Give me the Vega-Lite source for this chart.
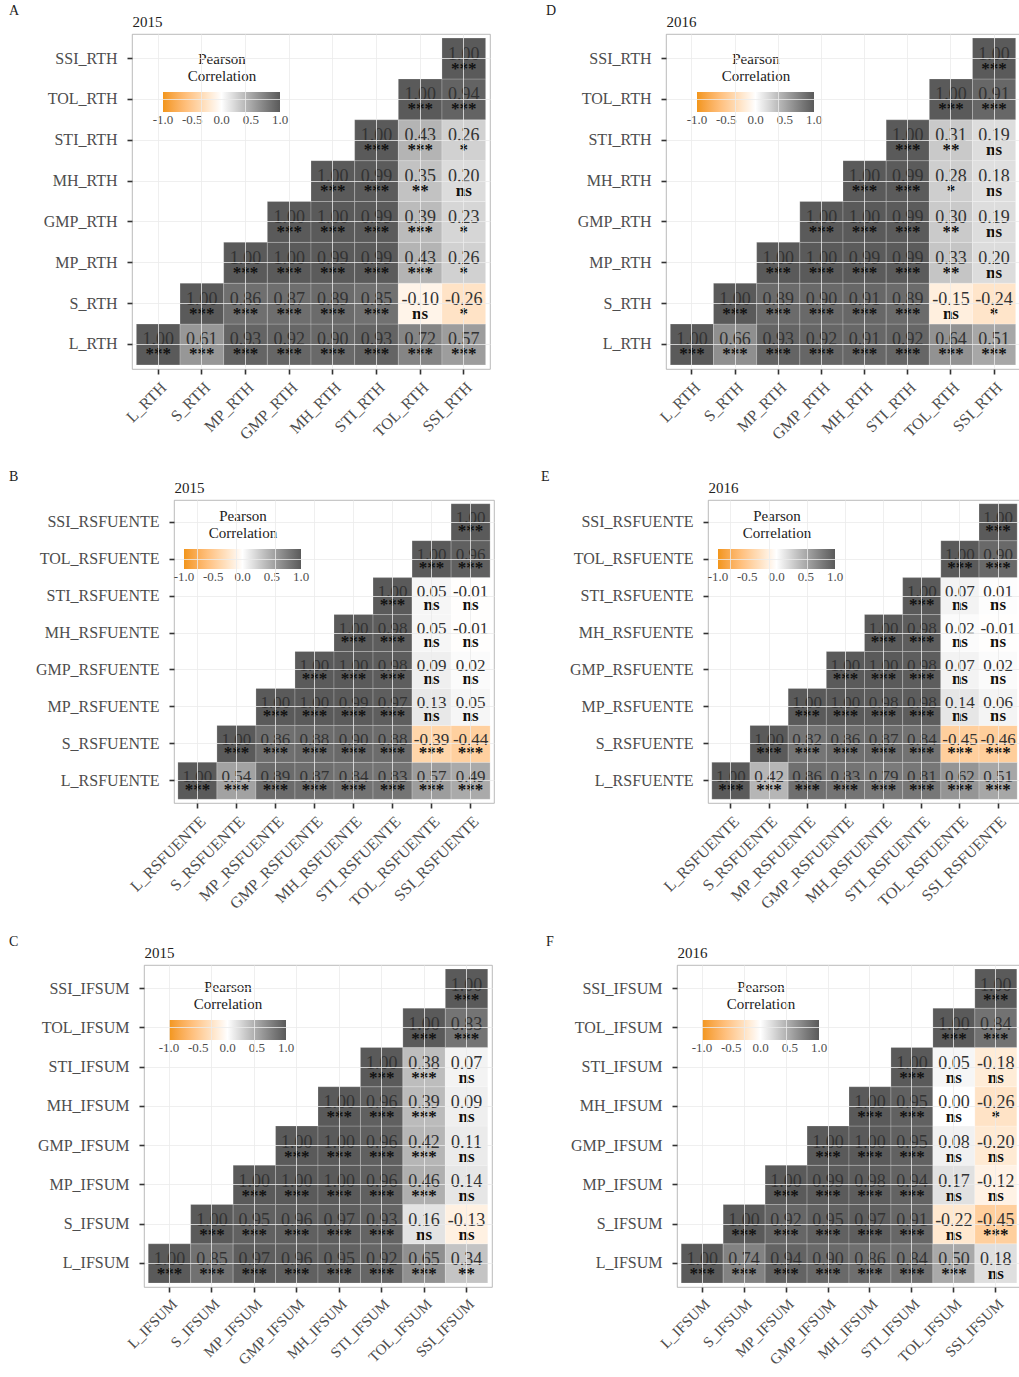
{
  "$schema": "https://vega.github.io/schema/vega-lite/v6.json",
  "background": "white",
  "padding": {"left": 0, "top": 3, "right": 0, "bottom": 0},
  "spacing": 14,
  "resolve": {"scale": {"color": "independent"}, "legend": {"color": "independent"}},
  "datasets": {
    "A": [
      {"x": "L_RTH", "y": "L_RTH", "r": 1, "sig": "***"},
      {"x": "S_RTH", "y": "L_RTH", "r": 0.61, "sig": "***"},
      {"x": "MP_RTH", "y": "L_RTH", "r": 0.93, "sig": "***"},
      {"x": "GMP_RTH", "y": "L_RTH", "r": 0.92, "sig": "***"},
      {"x": "MH_RTH", "y": "L_RTH", "r": 0.90, "sig": "***"},
      {"x": "STI_RTH", "y": "L_RTH", "r": 0.93, "sig": "***"},
      {"x": "TOL_RTH", "y": "L_RTH", "r": 0.72, "sig": "***"},
      {"x": "SSI_RTH", "y": "L_RTH", "r": 0.57, "sig": "***"},
      {"x": "S_RTH", "y": "S_RTH", "r": 1, "sig": "***"},
      {"x": "MP_RTH", "y": "S_RTH", "r": 0.86, "sig": "***"},
      {"x": "GMP_RTH", "y": "S_RTH", "r": 0.87, "sig": "***"},
      {"x": "MH_RTH", "y": "S_RTH", "r": 0.89, "sig": "***"},
      {"x": "STI_RTH", "y": "S_RTH", "r": 0.85, "sig": "***"},
      {"x": "TOL_RTH", "y": "S_RTH", "r": -0.10, "sig": "ns"},
      {"x": "SSI_RTH", "y": "S_RTH", "r": -0.26, "sig": "*"},
      {"x": "MP_RTH", "y": "MP_RTH", "r": 1, "sig": "***"},
      {"x": "GMP_RTH", "y": "MP_RTH", "r": 1, "sig": "***"},
      {"x": "MH_RTH", "y": "MP_RTH", "r": 0.99, "sig": "***"},
      {"x": "STI_RTH", "y": "MP_RTH", "r": 0.99, "sig": "***"},
      {"x": "TOL_RTH", "y": "MP_RTH", "r": 0.43, "sig": "***"},
      {"x": "SSI_RTH", "y": "MP_RTH", "r": 0.26, "sig": "*"},
      {"x": "GMP_RTH", "y": "GMP_RTH", "r": 1, "sig": "***"},
      {"x": "MH_RTH", "y": "GMP_RTH", "r": 1, "sig": "***"},
      {"x": "STI_RTH", "y": "GMP_RTH", "r": 0.99, "sig": "***"},
      {"x": "TOL_RTH", "y": "GMP_RTH", "r": 0.39, "sig": "***"},
      {"x": "SSI_RTH", "y": "GMP_RTH", "r": 0.23, "sig": "*"},
      {"x": "MH_RTH", "y": "MH_RTH", "r": 1, "sig": "***"},
      {"x": "STI_RTH", "y": "MH_RTH", "r": 0.99, "sig": "***"},
      {"x": "TOL_RTH", "y": "MH_RTH", "r": 0.35, "sig": "**"},
      {"x": "SSI_RTH", "y": "MH_RTH", "r": 0.20, "sig": "ns"},
      {"x": "STI_RTH", "y": "STI_RTH", "r": 1, "sig": "***"},
      {"x": "TOL_RTH", "y": "STI_RTH", "r": 0.43, "sig": "***"},
      {"x": "SSI_RTH", "y": "STI_RTH", "r": 0.26, "sig": "*"},
      {"x": "TOL_RTH", "y": "TOL_RTH", "r": 1, "sig": "***"},
      {"x": "SSI_RTH", "y": "TOL_RTH", "r": 0.94, "sig": "***"},
      {"x": "SSI_RTH", "y": "SSI_RTH", "r": 1, "sig": "***"}
    ],
    "D": [
      {"x": "L_RTH", "y": "L_RTH", "r": 1, "sig": "***"},
      {"x": "S_RTH", "y": "L_RTH", "r": 0.66, "sig": "***"},
      {"x": "MP_RTH", "y": "L_RTH", "r": 0.93, "sig": "***"},
      {"x": "GMP_RTH", "y": "L_RTH", "r": 0.92, "sig": "***"},
      {"x": "MH_RTH", "y": "L_RTH", "r": 0.91, "sig": "***"},
      {"x": "STI_RTH", "y": "L_RTH", "r": 0.92, "sig": "***"},
      {"x": "TOL_RTH", "y": "L_RTH", "r": 0.64, "sig": "***"},
      {"x": "SSI_RTH", "y": "L_RTH", "r": 0.51, "sig": "***"},
      {"x": "S_RTH", "y": "S_RTH", "r": 1, "sig": "***"},
      {"x": "MP_RTH", "y": "S_RTH", "r": 0.89, "sig": "***"},
      {"x": "GMP_RTH", "y": "S_RTH", "r": 0.90, "sig": "***"},
      {"x": "MH_RTH", "y": "S_RTH", "r": 0.91, "sig": "***"},
      {"x": "STI_RTH", "y": "S_RTH", "r": 0.89, "sig": "***"},
      {"x": "TOL_RTH", "y": "S_RTH", "r": -0.15, "sig": "ns"},
      {"x": "SSI_RTH", "y": "S_RTH", "r": -0.24, "sig": "*"},
      {"x": "MP_RTH", "y": "MP_RTH", "r": 1, "sig": "***"},
      {"x": "GMP_RTH", "y": "MP_RTH", "r": 1, "sig": "***"},
      {"x": "MH_RTH", "y": "MP_RTH", "r": 0.99, "sig": "***"},
      {"x": "STI_RTH", "y": "MP_RTH", "r": 0.99, "sig": "***"},
      {"x": "TOL_RTH", "y": "MP_RTH", "r": 0.33, "sig": "**"},
      {"x": "SSI_RTH", "y": "MP_RTH", "r": 0.20, "sig": "ns"},
      {"x": "GMP_RTH", "y": "GMP_RTH", "r": 1, "sig": "***"},
      {"x": "MH_RTH", "y": "GMP_RTH", "r": 1, "sig": "***"},
      {"x": "STI_RTH", "y": "GMP_RTH", "r": 0.99, "sig": "***"},
      {"x": "TOL_RTH", "y": "GMP_RTH", "r": 0.30, "sig": "**"},
      {"x": "SSI_RTH", "y": "GMP_RTH", "r": 0.19, "sig": "ns"},
      {"x": "MH_RTH", "y": "MH_RTH", "r": 1, "sig": "***"},
      {"x": "STI_RTH", "y": "MH_RTH", "r": 0.99, "sig": "***"},
      {"x": "TOL_RTH", "y": "MH_RTH", "r": 0.28, "sig": "*"},
      {"x": "SSI_RTH", "y": "MH_RTH", "r": 0.18, "sig": "ns"},
      {"x": "STI_RTH", "y": "STI_RTH", "r": 1, "sig": "***"},
      {"x": "TOL_RTH", "y": "STI_RTH", "r": 0.31, "sig": "**"},
      {"x": "SSI_RTH", "y": "STI_RTH", "r": 0.19, "sig": "ns"},
      {"x": "TOL_RTH", "y": "TOL_RTH", "r": 1, "sig": "***"},
      {"x": "SSI_RTH", "y": "TOL_RTH", "r": 0.91, "sig": "***"},
      {"x": "SSI_RTH", "y": "SSI_RTH", "r": 1, "sig": "***"}
    ],
    "B": [
      {"x": "L_RSFUENTE", "y": "L_RSFUENTE", "r": 1, "sig": "***"},
      {"x": "S_RSFUENTE", "y": "L_RSFUENTE", "r": 0.54, "sig": "***"},
      {"x": "MP_RSFUENTE", "y": "L_RSFUENTE", "r": 0.89, "sig": "***"},
      {"x": "GMP_RSFUENTE", "y": "L_RSFUENTE", "r": 0.87, "sig": "***"},
      {"x": "MH_RSFUENTE", "y": "L_RSFUENTE", "r": 0.84, "sig": "***"},
      {"x": "STI_RSFUENTE", "y": "L_RSFUENTE", "r": 0.83, "sig": "***"},
      {"x": "TOL_RSFUENTE", "y": "L_RSFUENTE", "r": 0.57, "sig": "***"},
      {"x": "SSI_RSFUENTE", "y": "L_RSFUENTE", "r": 0.49, "sig": "***"},
      {"x": "S_RSFUENTE", "y": "S_RSFUENTE", "r": 1, "sig": "***"},
      {"x": "MP_RSFUENTE", "y": "S_RSFUENTE", "r": 0.86, "sig": "***"},
      {"x": "GMP_RSFUENTE", "y": "S_RSFUENTE", "r": 0.88, "sig": "***"},
      {"x": "MH_RSFUENTE", "y": "S_RSFUENTE", "r": 0.90, "sig": "***"},
      {"x": "STI_RSFUENTE", "y": "S_RSFUENTE", "r": 0.88, "sig": "***"},
      {"x": "TOL_RSFUENTE", "y": "S_RSFUENTE", "r": -0.39, "sig": "***"},
      {"x": "SSI_RSFUENTE", "y": "S_RSFUENTE", "r": -0.44, "sig": "***"},
      {"x": "MP_RSFUENTE", "y": "MP_RSFUENTE", "r": 1, "sig": "***"},
      {"x": "GMP_RSFUENTE", "y": "MP_RSFUENTE", "r": 1, "sig": "***"},
      {"x": "MH_RSFUENTE", "y": "MP_RSFUENTE", "r": 0.99, "sig": "***"},
      {"x": "STI_RSFUENTE", "y": "MP_RSFUENTE", "r": 0.97, "sig": "***"},
      {"x": "TOL_RSFUENTE", "y": "MP_RSFUENTE", "r": 0.13, "sig": "ns"},
      {"x": "SSI_RSFUENTE", "y": "MP_RSFUENTE", "r": 0.05, "sig": "ns"},
      {"x": "GMP_RSFUENTE", "y": "GMP_RSFUENTE", "r": 1, "sig": "***"},
      {"x": "MH_RSFUENTE", "y": "GMP_RSFUENTE", "r": 1, "sig": "***"},
      {"x": "STI_RSFUENTE", "y": "GMP_RSFUENTE", "r": 0.98, "sig": "***"},
      {"x": "TOL_RSFUENTE", "y": "GMP_RSFUENTE", "r": 0.09, "sig": "ns"},
      {"x": "SSI_RSFUENTE", "y": "GMP_RSFUENTE", "r": 0.02, "sig": "ns"},
      {"x": "MH_RSFUENTE", "y": "MH_RSFUENTE", "r": 1, "sig": "***"},
      {"x": "STI_RSFUENTE", "y": "MH_RSFUENTE", "r": 0.98, "sig": "***"},
      {"x": "TOL_RSFUENTE", "y": "MH_RSFUENTE", "r": 0.05, "sig": "ns"},
      {"x": "SSI_RSFUENTE", "y": "MH_RSFUENTE", "r": -0.01, "sig": "ns"},
      {"x": "STI_RSFUENTE", "y": "STI_RSFUENTE", "r": 1, "sig": "***"},
      {"x": "TOL_RSFUENTE", "y": "STI_RSFUENTE", "r": 0.05, "sig": "ns"},
      {"x": "SSI_RSFUENTE", "y": "STI_RSFUENTE", "r": -0.01, "sig": "ns"},
      {"x": "TOL_RSFUENTE", "y": "TOL_RSFUENTE", "r": 1, "sig": "***"},
      {"x": "SSI_RSFUENTE", "y": "TOL_RSFUENTE", "r": 0.96, "sig": "***"},
      {"x": "SSI_RSFUENTE", "y": "SSI_RSFUENTE", "r": 1, "sig": "***"}
    ],
    "E": [
      {"x": "L_RSFUENTE", "y": "L_RSFUENTE", "r": 1, "sig": "***"},
      {"x": "S_RSFUENTE", "y": "L_RSFUENTE", "r": 0.42, "sig": "***"},
      {"x": "MP_RSFUENTE", "y": "L_RSFUENTE", "r": 0.86, "sig": "***"},
      {"x": "GMP_RSFUENTE", "y": "L_RSFUENTE", "r": 0.83, "sig": "***"},
      {"x": "MH_RSFUENTE", "y": "L_RSFUENTE", "r": 0.79, "sig": "***"},
      {"x": "STI_RSFUENTE", "y": "L_RSFUENTE", "r": 0.81, "sig": "***"},
      {"x": "TOL_RSFUENTE", "y": "L_RSFUENTE", "r": 0.62, "sig": "***"},
      {"x": "SSI_RSFUENTE", "y": "L_RSFUENTE", "r": 0.51, "sig": "***"},
      {"x": "S_RSFUENTE", "y": "S_RSFUENTE", "r": 1, "sig": "***"},
      {"x": "MP_RSFUENTE", "y": "S_RSFUENTE", "r": 0.82, "sig": "***"},
      {"x": "GMP_RSFUENTE", "y": "S_RSFUENTE", "r": 0.86, "sig": "***"},
      {"x": "MH_RSFUENTE", "y": "S_RSFUENTE", "r": 0.87, "sig": "***"},
      {"x": "STI_RSFUENTE", "y": "S_RSFUENTE", "r": 0.84, "sig": "***"},
      {"x": "TOL_RSFUENTE", "y": "S_RSFUENTE", "r": -0.45, "sig": "***"},
      {"x": "SSI_RSFUENTE", "y": "S_RSFUENTE", "r": -0.46, "sig": "***"},
      {"x": "MP_RSFUENTE", "y": "MP_RSFUENTE", "r": 1, "sig": "***"},
      {"x": "GMP_RSFUENTE", "y": "MP_RSFUENTE", "r": 1, "sig": "***"},
      {"x": "MH_RSFUENTE", "y": "MP_RSFUENTE", "r": 0.98, "sig": "***"},
      {"x": "STI_RSFUENTE", "y": "MP_RSFUENTE", "r": 0.98, "sig": "***"},
      {"x": "TOL_RSFUENTE", "y": "MP_RSFUENTE", "r": 0.14, "sig": "ns"},
      {"x": "SSI_RSFUENTE", "y": "MP_RSFUENTE", "r": 0.06, "sig": "ns"},
      {"x": "GMP_RSFUENTE", "y": "GMP_RSFUENTE", "r": 1, "sig": "***"},
      {"x": "MH_RSFUENTE", "y": "GMP_RSFUENTE", "r": 1, "sig": "***"},
      {"x": "STI_RSFUENTE", "y": "GMP_RSFUENTE", "r": 0.98, "sig": "***"},
      {"x": "TOL_RSFUENTE", "y": "GMP_RSFUENTE", "r": 0.07, "sig": "ns"},
      {"x": "SSI_RSFUENTE", "y": "GMP_RSFUENTE", "r": 0.02, "sig": "ns"},
      {"x": "MH_RSFUENTE", "y": "MH_RSFUENTE", "r": 1, "sig": "***"},
      {"x": "STI_RSFUENTE", "y": "MH_RSFUENTE", "r": 0.98, "sig": "***"},
      {"x": "TOL_RSFUENTE", "y": "MH_RSFUENTE", "r": 0.02, "sig": "ns"},
      {"x": "SSI_RSFUENTE", "y": "MH_RSFUENTE", "r": -0.01, "sig": "ns"},
      {"x": "STI_RSFUENTE", "y": "STI_RSFUENTE", "r": 1, "sig": "***"},
      {"x": "TOL_RSFUENTE", "y": "STI_RSFUENTE", "r": 0.07, "sig": "ns"},
      {"x": "SSI_RSFUENTE", "y": "STI_RSFUENTE", "r": 0.01, "sig": "ns"},
      {"x": "TOL_RSFUENTE", "y": "TOL_RSFUENTE", "r": 1, "sig": "***"},
      {"x": "SSI_RSFUENTE", "y": "TOL_RSFUENTE", "r": 0.90, "sig": "***"},
      {"x": "SSI_RSFUENTE", "y": "SSI_RSFUENTE", "r": 1, "sig": "***"}
    ],
    "C": [
      {"x": "L_IFSUM", "y": "L_IFSUM", "r": 1, "sig": "***"},
      {"x": "S_IFSUM", "y": "L_IFSUM", "r": 0.85, "sig": "***"},
      {"x": "MP_IFSUM", "y": "L_IFSUM", "r": 0.97, "sig": "***"},
      {"x": "GMP_IFSUM", "y": "L_IFSUM", "r": 0.96, "sig": "***"},
      {"x": "MH_IFSUM", "y": "L_IFSUM", "r": 0.95, "sig": "***"},
      {"x": "STI_IFSUM", "y": "L_IFSUM", "r": 0.92, "sig": "***"},
      {"x": "TOL_IFSUM", "y": "L_IFSUM", "r": 0.65, "sig": "***"},
      {"x": "SSI_IFSUM", "y": "L_IFSUM", "r": 0.34, "sig": "**"},
      {"x": "S_IFSUM", "y": "S_IFSUM", "r": 1, "sig": "***"},
      {"x": "MP_IFSUM", "y": "S_IFSUM", "r": 0.95, "sig": "***"},
      {"x": "GMP_IFSUM", "y": "S_IFSUM", "r": 0.96, "sig": "***"},
      {"x": "MH_IFSUM", "y": "S_IFSUM", "r": 0.97, "sig": "***"},
      {"x": "STI_IFSUM", "y": "S_IFSUM", "r": 0.93, "sig": "***"},
      {"x": "TOL_IFSUM", "y": "S_IFSUM", "r": 0.16, "sig": "ns"},
      {"x": "SSI_IFSUM", "y": "S_IFSUM", "r": -0.13, "sig": "ns"},
      {"x": "MP_IFSUM", "y": "MP_IFSUM", "r": 1, "sig": "***"},
      {"x": "GMP_IFSUM", "y": "MP_IFSUM", "r": 1, "sig": "***"},
      {"x": "MH_IFSUM", "y": "MP_IFSUM", "r": 1, "sig": "***"},
      {"x": "STI_IFSUM", "y": "MP_IFSUM", "r": 0.96, "sig": "***"},
      {"x": "TOL_IFSUM", "y": "MP_IFSUM", "r": 0.46, "sig": "***"},
      {"x": "SSI_IFSUM", "y": "MP_IFSUM", "r": 0.14, "sig": "ns"},
      {"x": "GMP_IFSUM", "y": "GMP_IFSUM", "r": 1, "sig": "***"},
      {"x": "MH_IFSUM", "y": "GMP_IFSUM", "r": 1, "sig": "***"},
      {"x": "STI_IFSUM", "y": "GMP_IFSUM", "r": 0.96, "sig": "***"},
      {"x": "TOL_IFSUM", "y": "GMP_IFSUM", "r": 0.42, "sig": "***"},
      {"x": "SSI_IFSUM", "y": "GMP_IFSUM", "r": 0.11, "sig": "ns"},
      {"x": "MH_IFSUM", "y": "MH_IFSUM", "r": 1, "sig": "***"},
      {"x": "STI_IFSUM", "y": "MH_IFSUM", "r": 0.96, "sig": "***"},
      {"x": "TOL_IFSUM", "y": "MH_IFSUM", "r": 0.39, "sig": "***"},
      {"x": "SSI_IFSUM", "y": "MH_IFSUM", "r": 0.09, "sig": "ns"},
      {"x": "STI_IFSUM", "y": "STI_IFSUM", "r": 1, "sig": "***"},
      {"x": "TOL_IFSUM", "y": "STI_IFSUM", "r": 0.38, "sig": "***"},
      {"x": "SSI_IFSUM", "y": "STI_IFSUM", "r": 0.07, "sig": "ns"},
      {"x": "TOL_IFSUM", "y": "TOL_IFSUM", "r": 1, "sig": "***"},
      {"x": "SSI_IFSUM", "y": "TOL_IFSUM", "r": 0.83, "sig": "***"},
      {"x": "SSI_IFSUM", "y": "SSI_IFSUM", "r": 1, "sig": "***"}
    ],
    "F": [
      {"x": "L_IFSUM", "y": "L_IFSUM", "r": 1, "sig": "***"},
      {"x": "S_IFSUM", "y": "L_IFSUM", "r": 0.74, "sig": "***"},
      {"x": "MP_IFSUM", "y": "L_IFSUM", "r": 0.94, "sig": "***"},
      {"x": "GMP_IFSUM", "y": "L_IFSUM", "r": 0.90, "sig": "***"},
      {"x": "MH_IFSUM", "y": "L_IFSUM", "r": 0.86, "sig": "***"},
      {"x": "STI_IFSUM", "y": "L_IFSUM", "r": 0.84, "sig": "***"},
      {"x": "TOL_IFSUM", "y": "L_IFSUM", "r": 0.50, "sig": "***"},
      {"x": "SSI_IFSUM", "y": "L_IFSUM", "r": 0.18, "sig": "ns"},
      {"x": "S_IFSUM", "y": "S_IFSUM", "r": 1, "sig": "***"},
      {"x": "MP_IFSUM", "y": "S_IFSUM", "r": 0.92, "sig": "***"},
      {"x": "GMP_IFSUM", "y": "S_IFSUM", "r": 0.95, "sig": "***"},
      {"x": "MH_IFSUM", "y": "S_IFSUM", "r": 0.97, "sig": "***"},
      {"x": "STI_IFSUM", "y": "S_IFSUM", "r": 0.91, "sig": "***"},
      {"x": "TOL_IFSUM", "y": "S_IFSUM", "r": -0.22, "sig": "ns"},
      {"x": "SSI_IFSUM", "y": "S_IFSUM", "r": -0.45, "sig": "***"},
      {"x": "MP_IFSUM", "y": "MP_IFSUM", "r": 1, "sig": "***"},
      {"x": "GMP_IFSUM", "y": "MP_IFSUM", "r": 0.99, "sig": "***"},
      {"x": "MH_IFSUM", "y": "MP_IFSUM", "r": 0.98, "sig": "***"},
      {"x": "STI_IFSUM", "y": "MP_IFSUM", "r": 0.94, "sig": "***"},
      {"x": "TOL_IFSUM", "y": "MP_IFSUM", "r": 0.17, "sig": "ns"},
      {"x": "SSI_IFSUM", "y": "MP_IFSUM", "r": -0.12, "sig": "ns"},
      {"x": "GMP_IFSUM", "y": "GMP_IFSUM", "r": 1, "sig": "***"},
      {"x": "MH_IFSUM", "y": "GMP_IFSUM", "r": 1, "sig": "***"},
      {"x": "STI_IFSUM", "y": "GMP_IFSUM", "r": 0.95, "sig": "***"},
      {"x": "TOL_IFSUM", "y": "GMP_IFSUM", "r": 0.08, "sig": "ns"},
      {"x": "SSI_IFSUM", "y": "GMP_IFSUM", "r": -0.20, "sig": "ns"},
      {"x": "MH_IFSUM", "y": "MH_IFSUM", "r": 1, "sig": "***"},
      {"x": "STI_IFSUM", "y": "MH_IFSUM", "r": 0.95, "sig": "***"},
      {"x": "TOL_IFSUM", "y": "MH_IFSUM", "r": 0.00, "sig": "ns"},
      {"x": "SSI_IFSUM", "y": "MH_IFSUM", "r": -0.26, "sig": "*"},
      {"x": "STI_IFSUM", "y": "STI_IFSUM", "r": 1, "sig": "***"},
      {"x": "TOL_IFSUM", "y": "STI_IFSUM", "r": 0.05, "sig": "ns"},
      {"x": "SSI_IFSUM", "y": "STI_IFSUM", "r": -0.18, "sig": "ns"},
      {"x": "TOL_IFSUM", "y": "TOL_IFSUM", "r": 1, "sig": "***"},
      {"x": "SSI_IFSUM", "y": "TOL_IFSUM", "r": 0.84, "sig": "***"},
      {"x": "SSI_IFSUM", "y": "SSI_IFSUM", "r": 1, "sig": "***"}
    ]
  },
  "vconcat": [
    {
      "spacing": 7,
      "resolve": {"scale": {"color": "independent"}, "legend": {"color": "independent"}},
      "hconcat": [
        {"data": {"values": []}, "mark": {"type": "rect"}, "encoding": {}, "width": 1, "height": 1, "view": {"stroke": null}},
        {
          "spacing": 54,
          "resolve": {"scale": {"color": "independent"}, "legend": {"color": "independent"}},
          "hconcat": [
            {
              "width": 358, "height": 335,
              "title": {"text": "A"},
              "data": {"name": "A"},
              "encoding": {
                "x": {"field": "x", "type": "nominal", "scale": {"domain": ["L_RTH","S_RTH","MP_RTH","GMP_RTH","MH_RTH","STI_RTH","TOL_RTH","SSI_RTH"], "paddingInner": 0, "paddingOuter": 0.1}, "axis": {"title": null, "minExtent": 85}},
                "y": {"field": "y", "type": "nominal", "scale": {"domain": ["SSI_RTH","TOL_RTH","STI_RTH","MH_RTH","GMP_RTH","MP_RTH","S_RTH","L_RTH"], "paddingInner": 0, "paddingOuter": 0.1}, "axis": {"title": "2015", "titleX": 0, "titleY": -8, "minExtent": 123}}
              },
              "layer": [
                {"mark": {"type": "rect", "stroke": "#ffffff", "strokeWidth": 0.6, "strokeOpacity": 0.35},
                 "encoding": {"color": {"field": "r", "type": "quantitative", "scale": {"domain": [-1, 0, 1], "range": ["#F2961B", "#FFFFFF", "#5A5A5A"], "interpolate": "lab"},
                   "legend": {"title": ["Pearson", "Correlation"], "legendX": 31, "legendY": 18, "values": [-1, -0.5, 0, 0.5, 1], "format": ".1f", "labelExpr": "replace(datum.label, '\u2212', '-')", "encode": {"labels": {"update": {"align": {"value": "center"}}}}}}}},
                {"mark": {"type": "text", "fontSize": 18, "color": "#333333", "baseline": "alphabetic", "yOffset": 1, "text": {"expr": "replace(format(datum.r, '.2f'), '\u2212', '-')"}}},
                {"mark": {"type": "text", "fontSize": 17, "fontWeight": "bold", "color": "#111111", "baseline": "alphabetic", "yOffset": 15}, "encoding": {"text": {"field": "sig", "type": "nominal"}}}
              ]
            },
            {
              "width": 354, "height": 335,
              "title": {"text": "D"},
              "data": {"name": "D"},
              "encoding": {
                "x": {"field": "x", "type": "nominal", "scale": {"domain": ["L_RTH","S_RTH","MP_RTH","GMP_RTH","MH_RTH","STI_RTH","TOL_RTH","SSI_RTH"], "paddingInner": 0, "paddingOuter": 0.1}, "axis": {"title": null, "minExtent": 85}},
                "y": {"field": "y", "type": "nominal", "scale": {"domain": ["SSI_RTH","TOL_RTH","STI_RTH","MH_RTH","GMP_RTH","MP_RTH","S_RTH","L_RTH"], "paddingInner": 0, "paddingOuter": 0.1}, "axis": {"title": "2016", "titleX": 0, "titleY": -8, "minExtent": 120}}
              },
              "layer": [
                {"mark": {"type": "rect", "stroke": "#ffffff", "strokeWidth": 0.6, "strokeOpacity": 0.35},
                 "encoding": {"color": {"field": "r", "type": "quantitative", "scale": {"domain": [-1, 0, 1], "range": ["#F2961B", "#FFFFFF", "#5A5A5A"], "interpolate": "lab"},
                   "legend": {"title": ["Pearson", "Correlation"], "legendX": 31, "legendY": 18, "values": [-1, -0.5, 0, 0.5, 1], "format": ".1f", "labelExpr": "replace(datum.label, '\u2212', '-')", "encode": {"labels": {"update": {"align": {"value": "center"}}}}}}}},
                {"mark": {"type": "text", "fontSize": 18, "color": "#333333", "baseline": "alphabetic", "yOffset": 1, "text": {"expr": "replace(format(datum.r, '.2f'), '\u2212', '-')"}}},
                {"mark": {"type": "text", "fontSize": 17, "fontWeight": "bold", "color": "#111111", "baseline": "alphabetic", "yOffset": 15}, "encoding": {"text": {"field": "sig", "type": "nominal"}}}
              ]
            }
          ]
        }
      ]
    },
    {
      "spacing": 7,
      "resolve": {"scale": {"color": "independent"}, "legend": {"color": "independent"}},
      "hconcat": [
        {"data": {"values": []}, "mark": {"type": "rect"}, "encoding": {}, "width": 1, "height": 1, "view": {"stroke": null}},
        {
          "spacing": 45,
          "resolve": {"scale": {"color": "independent"}, "legend": {"color": "independent"}},
          "hconcat": [
            {
              "width": 320, "height": 303,
              "title": {"text": "B"},
              "data": {"name": "B"},
              "encoding": {
                "x": {"field": "x", "type": "nominal", "scale": {"domain": ["L_RSFUENTE","S_RSFUENTE","MP_RSFUENTE","GMP_RSFUENTE","MH_RSFUENTE","STI_RSFUENTE","TOL_RSFUENTE","SSI_RSFUENTE"], "paddingInner": 0, "paddingOuter": 0.1}, "axis": {"title": null, "minExtent": 116}},
                "y": {"field": "y", "type": "nominal", "scale": {"domain": ["SSI_RSFUENTE","TOL_RSFUENTE","STI_RSFUENTE","MH_RSFUENTE","GMP_RSFUENTE","MP_RSFUENTE","S_RSFUENTE","L_RSFUENTE"], "paddingInner": 0, "paddingOuter": 0.1}, "axis": {"title": "2015", "titleX": 0, "titleY": -8, "minExtent": 165}}
              },
              "layer": [
                {"mark": {"type": "rect", "stroke": "#ffffff", "strokeWidth": 0.6, "strokeOpacity": 0.35},
                 "encoding": {"color": {"field": "r", "type": "quantitative", "scale": {"domain": [-1, 0, 1], "range": ["#F2961B", "#FFFFFF", "#5A5A5A"], "interpolate": "lab"},
                   "legend": {"title": ["Pearson", "Correlation"], "legendX": 10, "legendY": 9, "values": [-1, -0.5, 0, 0.5, 1], "format": ".1f", "labelExpr": "replace(datum.label, '\u2212', '-')", "encode": {"labels": {"update": {"align": {"value": "center"}}}}}}}},
                {"mark": {"type": "text", "fontSize": 17, "color": "#333333", "baseline": "alphabetic", "yOffset": 1, "text": {"expr": "replace(format(datum.r, '.2f'), '\u2212', '-')"}}},
                {"mark": {"type": "text", "fontSize": 17, "fontWeight": "bold", "color": "#111111", "baseline": "alphabetic", "yOffset": 14}, "encoding": {"text": {"field": "sig", "type": "nominal"}}}
              ]
            },
            {
              "width": 313, "height": 303,
              "title": {"text": "E"},
              "data": {"name": "E"},
              "encoding": {
                "x": {"field": "x", "type": "nominal", "scale": {"domain": ["L_RSFUENTE","S_RSFUENTE","MP_RSFUENTE","GMP_RSFUENTE","MH_RSFUENTE","STI_RSFUENTE","TOL_RSFUENTE","SSI_RSFUENTE"], "paddingInner": 0, "paddingOuter": 0.1}, "axis": {"title": null, "minExtent": 116}},
                "y": {"field": "y", "type": "nominal", "scale": {"domain": ["SSI_RSFUENTE","TOL_RSFUENTE","STI_RSFUENTE","MH_RSFUENTE","GMP_RSFUENTE","MP_RSFUENTE","S_RSFUENTE","L_RSFUENTE"], "paddingInner": 0, "paddingOuter": 0.1}, "axis": {"title": "2016", "titleX": 0, "titleY": -8, "minExtent": 167}}
              },
              "layer": [
                {"mark": {"type": "rect", "stroke": "#ffffff", "strokeWidth": 0.6, "strokeOpacity": 0.35},
                 "encoding": {"color": {"field": "r", "type": "quantitative", "scale": {"domain": [-1, 0, 1], "range": ["#F2961B", "#FFFFFF", "#5A5A5A"], "interpolate": "lab"},
                   "legend": {"title": ["Pearson", "Correlation"], "legendX": 10, "legendY": 9, "values": [-1, -0.5, 0, 0.5, 1], "format": ".1f", "labelExpr": "replace(datum.label, '\u2212', '-')", "encode": {"labels": {"update": {"align": {"value": "center"}}}}}}}},
                {"mark": {"type": "text", "fontSize": 17, "color": "#333333", "baseline": "alphabetic", "yOffset": 1, "text": {"expr": "replace(format(datum.r, '.2f'), '\u2212', '-')"}}},
                {"mark": {"type": "text", "fontSize": 17, "fontWeight": "bold", "color": "#111111", "baseline": "alphabetic", "yOffset": 14}, "encoding": {"text": {"field": "sig", "type": "nominal"}}}
              ]
            }
          ]
        }
      ]
    },
    {
      "spacing": 7,
      "resolve": {"scale": {"color": "independent"}, "legend": {"color": "independent"}},
      "hconcat": [
        {"data": {"values": []}, "mark": {"type": "rect"}, "encoding": {}, "width": 1, "height": 1, "view": {"stroke": null}},
        {
          "spacing": 52,
          "resolve": {"scale": {"color": "independent"}, "legend": {"color": "independent"}},
          "hconcat": [
            {
              "width": 348, "height": 322,
              "title": {"text": "C"},
              "data": {"name": "C"},
              "encoding": {
                "x": {"field": "x", "type": "nominal", "scale": {"domain": ["L_IFSUM","S_IFSUM","MP_IFSUM","GMP_IFSUM","MH_IFSUM","STI_IFSUM","TOL_IFSUM","SSI_IFSUM"], "paddingInner": 0, "paddingOuter": 0.1}, "axis": {"title": null, "labelFontSize": 15, "labelPadding": 4}},
                "y": {"field": "y", "type": "nominal", "scale": {"domain": ["SSI_IFSUM","TOL_IFSUM","STI_IFSUM","MH_IFSUM","GMP_IFSUM","MP_IFSUM","S_IFSUM","L_IFSUM"], "paddingInner": 0, "paddingOuter": 0.1}, "axis": {"title": "2015", "titleX": 0, "titleY": -8, "minExtent": 135}}
              },
              "layer": [
                {"mark": {"type": "rect", "stroke": "#ffffff", "strokeWidth": 0.6, "strokeOpacity": 0.35},
                 "encoding": {"color": {"field": "r", "type": "quantitative", "scale": {"domain": [-1, 0, 1], "range": ["#F2961B", "#FFFFFF", "#5A5A5A"], "interpolate": "lab"},
                   "legend": {"title": ["Pearson", "Correlation"], "legendX": 25, "legendY": 15, "values": [-1, -0.5, 0, 0.5, 1], "format": ".1f", "labelExpr": "replace(datum.label, '\u2212', '-')", "encode": {"labels": {"update": {"align": {"value": "center"}}}}}}}},
                {"mark": {"type": "text", "fontSize": 18, "color": "#333333", "baseline": "alphabetic", "yOffset": 2, "text": {"expr": "replace(format(datum.r, '.2f'), '\u2212', '-')"}}},
                {"mark": {"type": "text", "fontSize": 17, "fontWeight": "bold", "color": "#111111", "baseline": "alphabetic", "yOffset": 16}, "encoding": {"text": {"field": "sig", "type": "nominal"}}}
              ]
            },
            {
              "width": 344, "height": 322,
              "title": {"text": "F"},
              "data": {"name": "F"},
              "encoding": {
                "x": {"field": "x", "type": "nominal", "scale": {"domain": ["L_IFSUM","S_IFSUM","MP_IFSUM","GMP_IFSUM","MH_IFSUM","STI_IFSUM","TOL_IFSUM","SSI_IFSUM"], "paddingInner": 0, "paddingOuter": 0.1}, "axis": {"title": null, "labelFontSize": 15, "labelPadding": 4}},
                "y": {"field": "y", "type": "nominal", "scale": {"domain": ["SSI_IFSUM","TOL_IFSUM","STI_IFSUM","MH_IFSUM","GMP_IFSUM","MP_IFSUM","S_IFSUM","L_IFSUM"], "paddingInner": 0, "paddingOuter": 0.1}, "axis": {"title": "2016", "titleX": 0, "titleY": -8, "minExtent": 131}}
              },
              "layer": [
                {"mark": {"type": "rect", "stroke": "#ffffff", "strokeWidth": 0.6, "strokeOpacity": 0.35},
                 "encoding": {"color": {"field": "r", "type": "quantitative", "scale": {"domain": [-1, 0, 1], "range": ["#F2961B", "#FFFFFF", "#5A5A5A"], "interpolate": "lab"},
                   "legend": {"title": ["Pearson", "Correlation"], "legendX": 25, "legendY": 15, "values": [-1, -0.5, 0, 0.5, 1], "format": ".1f", "labelExpr": "replace(datum.label, '\u2212', '-')", "encode": {"labels": {"update": {"align": {"value": "center"}}}}}}}},
                {"mark": {"type": "text", "fontSize": 18, "color": "#333333", "baseline": "alphabetic", "yOffset": 2, "text": {"expr": "replace(format(datum.r, '.2f'), '\u2212', '-')"}}},
                {"mark": {"type": "text", "fontSize": 17, "fontWeight": "bold", "color": "#111111", "baseline": "alphabetic", "yOffset": 16}, "encoding": {"text": {"field": "sig", "type": "nominal"}}}
              ]
            }
          ]
        }
      ]
    }
  ],
  "config": {
    "font": "Liberation Serif",
    "view": {"stroke": "#a8a8a8", "strokeWidth": 0.8},
    "axis": {
      "labelFont": "Liberation Serif", "labelFontSize": 16, "labelColor": "#4d4d4d",
      "tickColor": "#333333", "tickWidth": 1.6, "tickSize": 5,
      "domain": false, "grid": true, "gridColor": "#ebebeb", "gridWidth": 0.8, "bandPosition": 0.5,
      "titleFont": "Liberation Serif", "titleFontSize": 15, "titleFontWeight": "normal", "titleColor": "#222222"
    },
    "axisX": {"labelAngle": -45, "labelPadding": 5},
    "axisY": {"labelPadding": 10, "titleAngle": 0, "titleAlign": "left", "titleBaseline": "alphabetic"},
    "legend": {
      "orient": "none", "direction": "horizontal", "padding": 0,
      "titleFont": "Liberation Serif", "titleFontSize": 15, "titleFontWeight": "normal", "titleColor": "#222222",
      "titleAnchor": "middle", "titleAlign": "center", "titleLineHeight": 17, "titlePadding": 8,
      "gradientLength": 117, "gradientThickness": 20, "gradientStrokeWidth": 0,
      "labelFont": "Liberation Serif", "labelFontSize": 13, "labelColor": "#4d4d4d", "labelOffset": 8, "labelOverlap": false
    },
    "title": {"font": "Liberation Serif", "fontSize": 14, "fontWeight": "normal", "color": "#222222", "anchor": "start", "frame": "bounds", "offset": -4, "baseline": "alphabetic"}
  }
}
